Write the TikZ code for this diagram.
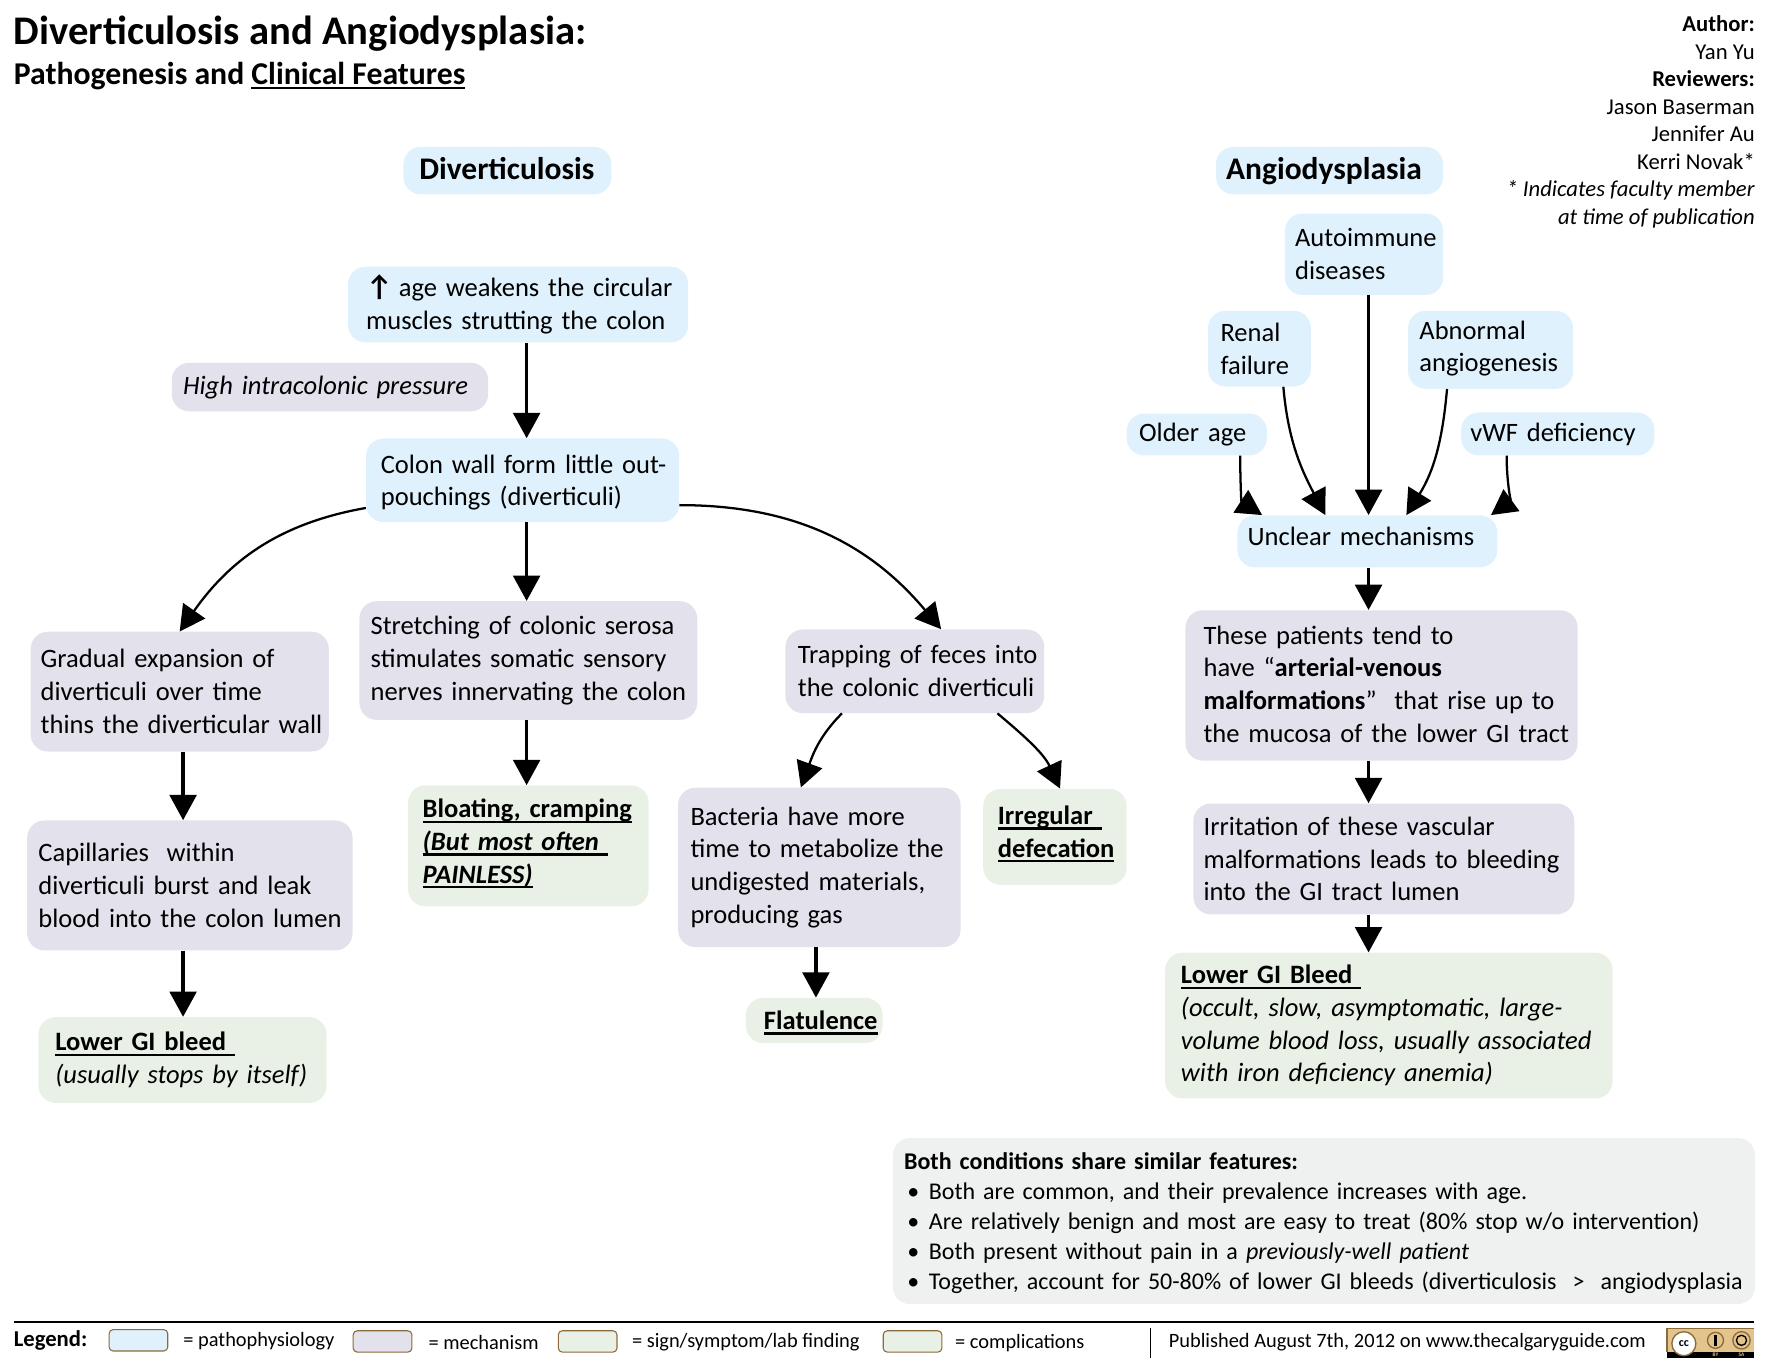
\documentclass[tikz,border=0pt]{standalone}
\usepackage{fontspec}
\setmainfont{Carlito}
\usetikzlibrary{arrows.meta}
\newcommand{\UnderText}[1]{\leavevmode\setbox0=\hbox{#1}\rlap{\rule[-4pt]{\wd0}{1.7pt}}\box0}
\newcommand{\SharedMark}{\makebox[18.6pt][l]{\hspace{2.5pt}•}}
\definecolor{pathfill}{HTML}{DFF1FC}
\definecolor{mechfill}{HTML}{E3E1EC}
\definecolor{signfill}{HTML}{E9F1E6}
\definecolor{sharedfill}{HTML}{EEF1F0}
\definecolor{legendedge}{HTML}{8C6A3A}
\definecolor{badgetan}{HTML}{E2C48C}
\tikzset{
  flowtip/.tip={Triangle[length=19pt,width=20pt]},
  box/.style={rounded corners=13pt,align=left,inner xsep=0pt,inner ysep=0pt,font=\fontsize{19.9}{24.6}\selectfont},
  boxdims/.style n args={3}{text width=#1*.8475pt,minimum height=#2*.8475pt,execute at begin node={\leftskip=#3\dimexpr.8475pt\relax}},
  lift/.style={execute at end node={\par\vspace{#1}}},
  pathbox/.style={box,fill=pathfill},
  mechbox/.style={box,fill=mechfill},
  signbox/.style={box,fill=signfill},
  headbox/.style={pathbox,font=\fontsize{23.6}{27}\selectfont\bfseries},
  flow/.style={->,line width=2.7pt},
  curveflow/.style={->,line width=1.7pt},
  plain/.style={inner sep=0pt,font=\fontsize{15.3}{19}\selectfont},
  legendbox/.style={draw=legendedge,line width=.8pt,rounded corners=3pt,minimum width=44pt,minimum height=16pt,inner sep=0pt},
  badgedisc/.style={circle,draw=legendedge,line width=1pt,inner sep=0pt},
}
\begin{document}
\begin{tikzpicture}[>=flowtip,x=.8475pt,y=-.8475pt]
  \useasboundingbox (0,0) rectangle (1568,1210.5);
  % columns for the straight arrows
  \coordinate (colleft) at (162,0);
  \coordinate (colmid) at (466,0);
  \coordinate (colbact) at (722,0);
  \coordinate (colright) at (1211,0);
  % heading
  \node[anchor=west,inner sep=0pt,font=\fontsize{30.5}{32}\selectfont\bfseries] (title) at (12,30) {Diverticulosis and Angiodysplasia:};
  \node[anchor=west,inner sep=0pt,font=\fontsize{23.8}{26}\selectfont\bfseries] (subtitle) at (12,67) {Pathogenesis and \UnderText{Clinical Features}};
  \node[anchor=north east,inner sep=0pt,align=right,font=\fontsize{17}{20.6}\selectfont] (credits) at (1553,14) {\textbf{Author:}\\Yan Yu\\\textbf{Reviewers:}\\Jason Baserman\\Jennifer Au\\Kerri Novak*\\\textit{* Indicates faculty member}\\\textit{at time of publication}};
  % diverticulosis
  \node[headbox,boxdims={184}{42}{14},lift=3.4pt] (divhead) at (449,151) {Diverticulosis};
  \node[pathbox,boxdims={301}{67}{16}] (age) at (458.5,269.5) {{\fontsize{22}{24.6}\selectfont\textbf{↑}}\hspace{-2pt} age weakens the circular\\muscles strutting the colon};
  \node[mechbox,boxdims={280}{43}{10},font=\fontsize{19.9}{24.6}\selectfont\itshape] (pressure) at (292,342.5) {High intracolonic pressure};
  \node[pathbox,boxdims={277}{74}{13},lift=-3.4pt] (colon) at (462.5,425) {Colon wall form little out-\\pouchings (diverticuli)};
  \node[mechbox,boxdims={264}{106}{9}] (gradual) at (159,612) {Gradual expansion of\\diverticuli over time\\thins the diverticular wall};
  \node[mechbox,boxdims={288}{115}{10}] (capillaries) at (168,783.5) {Capillaries\ \ within\\diverticuli burst and leak\\blood into the colon lumen};
  \node[signbox,boxdims={255}{76}{15}] (bleedleft) at (161.5,938) {\textbf{\UnderText{Lower GI bleed\ }}\\\textit{(usually stops by itself)}};
  \node[mechbox,boxdims={299}{105}{10}] (stretching) at (467.5,584.5) {Stretching of colonic serosa\\stimulates somatic sensory\\nerves innervating the colon};
  \node[signbox,boxdims={213}{107}{13},lift=3.4pt,font=\fontsize{19.9}{24.6}\selectfont\bfseries] (bloating) at (467.5,748.5) {\UnderText{Bloating, cramping}\\\UnderText{\textit{(But most often\ }}\\\UnderText{\textit{PAINLESS)}}};
  \node[mechbox,boxdims={229}{74}{11}] (trapping) at (809.5,594) {Trapping of feces into\\the colonic diverticuli};
  \node[mechbox,boxdims={250}{141}{11}] (bacteria) at (725,767.5) {Bacteria have more\\time to metabolize the\\undigested materials,\\producing gas};
  \node[signbox,boxdims={127}{85}{13},lift=4.2pt,font=\fontsize{19.9}{24.6}\selectfont\bfseries] (irregular) at (933.5,740.5) {\UnderText{Irregular\ }\\\UnderText{defecation}};
  \node[signbox,boxdims={121}{40}{16},lift=-3.4pt,font=\fontsize{19.9}{24.6}\selectfont\bfseries] (flatulence) at (720.5,903) {\UnderText{Flatulence}};
  % angiodysplasia
  \node[headbox,boxdims={201}{42}{9}] (anghead) at (1176.5,151) {Angiodysplasia};
  \node[pathbox,boxdims={140}{72}{9}] (autoimmune) at (1207,225) {Autoimmune\\diseases};
  \node[pathbox,boxdims={91}{67}{11}] (renal) at (1114.5,308.5) {Renal\\failure};
  \node[pathbox,boxdims={146}{69}{10},lift=1.7pt] (angiogenesis) at (1319,309.5) {Abnormal\\angiogenesis};
  \node[pathbox,boxdims={124}{37}{11}] (older) at (1059,384.5) {Older age};
  \node[pathbox,boxdims={171}{38}{8}] (vwf) at (1378.5,384) {vWF deficiency};
  \node[pathbox,boxdims={230}{46}{9},lift=6.8pt] (unclear) at (1210,479) {Unclear mechanisms};
  \node[mechbox,boxdims={347}{133}{16},lift=1.7pt] (patients) at (1222.5,606.5) {These patients tend to\\have “\textbf{arterial-venous}\\\textbf{malformations}”\ \ that rise up to\\the mucosa of the lower GI tract};
  \node[mechbox,boxdims={337}{98}{9}] (irritation) at (1224.5,760) {Irritation of these vascular\\malformations leads to bleeding\\into the GI tract lumen};
  \node[signbox,boxdims={396}{129}{14}] (bleedright) at (1229,907.5) {\textbf{\UnderText{Lower GI Bleed\ }}\\\textit{(occult, slow, asymptomatic, large-}\\\textit{volume blood loss, usually associated}\\\textit{with iron deficiency anemia)}};
  % shared features
  \node[box,fill=sharedfill,boxdims={763}{147}{10},lift=-2.6pt,font=\fontsize{18}{22.5}\selectfont] (shared) at (1171.5,1080.5) {\textbf{Both conditions share similar features:}\\
    \SharedMark Both are common, and their prevalence increases with age.\\
    \SharedMark Are relatively benign and most are easy to treat (80\% stop w/o intervention)\\
    \SharedMark Both present without pain in a \textit{previously-well patient}\\
    \SharedMark Together, account for 50-80\% of lower GI bleeds (diverticulosis\ \ >\ \ angiodysplasia};
  % arrows
  \draw[flow] (age.south -| colmid) -- (colon.north -| colmid);
  \draw[flow] (colon.south -| colmid) -- (stretching.north -| colmid);
  \draw[flow] (stretching.south -| colmid) -- (bloating.north -| colmid);
  \draw[flow] (gradual.south -| colleft) -- (capillaries.north -| colleft);
  \draw[flow] (capillaries.south -| colleft) -- (bleedleft.north -| colleft);
  \draw[flow] (bacteria.south -| colbact) -- (flatulence.north -| colbact);
  \draw[curveflow] (colon.190.7) to[out=190,in=55] (gradual.north);
  \draw[curveflow] (colon.-9.5) to[out=0,in=130] (trapping.58.7);
  \draw[curveflow] (trapping.210.6) to[out=225,in=70] (bacteria.103.6);
  \draw[curveflow] (trapping.333.3) to[out=-40,in=115] (irregular.84);
  \draw[flow] (autoimmune.south -| colright) -- (unclear.north -| colright);
  \draw[curveflow] (older.334.6) to[out=-90,in=147] (unclear.166.1);
  \draw[curveflow] (renal.302.7) to[out=-85,in=118] (unclear.148.8);
  \draw[curveflow] (angiogenesis.222.7) to[out=-95,in=58] (unclear.34.1);
  \draw[curveflow] (vwf.203.8) to[out=-90,in=36] (unclear.12.6);
  \draw[flow] (unclear.south -| colright) -- (patients.north -| colright);
  \draw[flow] (patients.south -| colright) -- (irritation.north -| colright);
  \draw[flow] (irritation.south -| colright) -- (bleedright.north -| colright);
  % legend
  \coordinate (ruleleft) at (12,1170);
  \coordinate (ruleright) at (1552,1170);
  \draw[line width=1.6pt] (ruleleft) -- (ruleright);
  \node[plain,anchor=west,font=\fontsize{17}{19}\selectfont\bfseries] (legendword) at (12,1186) {Legend:};
  \node[legendbox,fill=pathfill] (keypath) at (122.5,1186) {};
  \node[plain,anchor=west] (keypathtext) at (162,1187) {= pathophysiology};
  \node[legendbox,fill=mechfill] (keymech) at (338.5,1187) {};
  \node[plain,anchor=west] (keymechtext) at (379,1188) {= mechanism};
  \node[legendbox,fill=signfill] (keysign) at (520,1187) {};
  \node[plain,anchor=west] (keysigntext) at (559,1188) {= sign/symptom/lab finding};
  \node[legendbox,fill=signfill] (keycomp) at (807.5,1187) {};
  \node[plain,anchor=west] (keycomptext) at (845,1188) {= complications};
  \coordinate (divtop) at (1018,1175);
  \coordinate (divbottom) at (1018,1202);
  \draw[line width=.9pt] (divtop) -- (divbottom);
  \node[plain,anchor=west] (published) at (1034,1188) {Published August 7th, 2012 on www.thecalgaryguide.com};
  % licence badge
  \fill[black] (1475,1175) rectangle (1552,1202);
  \fill[badgetan] (1475,1175) rectangle (1552,1196);
  \draw[legendedge,line width=1.2pt] (1475,1196) -- (1475,1175.5) -- (1552,1175.5);
  \node[badgedisc,fill=white,minimum size=18pt,font=\fontsize{9}{9}\selectfont\bfseries] (badgecc) at (1490,1189) {cc};
  \node[badgedisc,fill=badgetan,minimum size=12pt] (badgeby) at (1518,1186) {};
  \node[badgedisc,fill=badgetan,minimum size=13pt] (badgesa) at (1541,1186) {};
  \fill[black] (badgeby.center) ++(-1.3,-5) rectangle ++(2.6,10);
  \draw[black,line width=1pt] (badgesa.center) circle (4.5);
  \node[inner sep=0pt,text=badgetan,font=\fontsize{4}{4}\selectfont\bfseries] (badgebytext) at (1518,1199) {BY};
  \node[inner sep=0pt,text=badgetan,font=\fontsize{4}{4}\selectfont\bfseries] (badgesatext) at (1541,1199) {SA};
\end{tikzpicture}
\end{document}
